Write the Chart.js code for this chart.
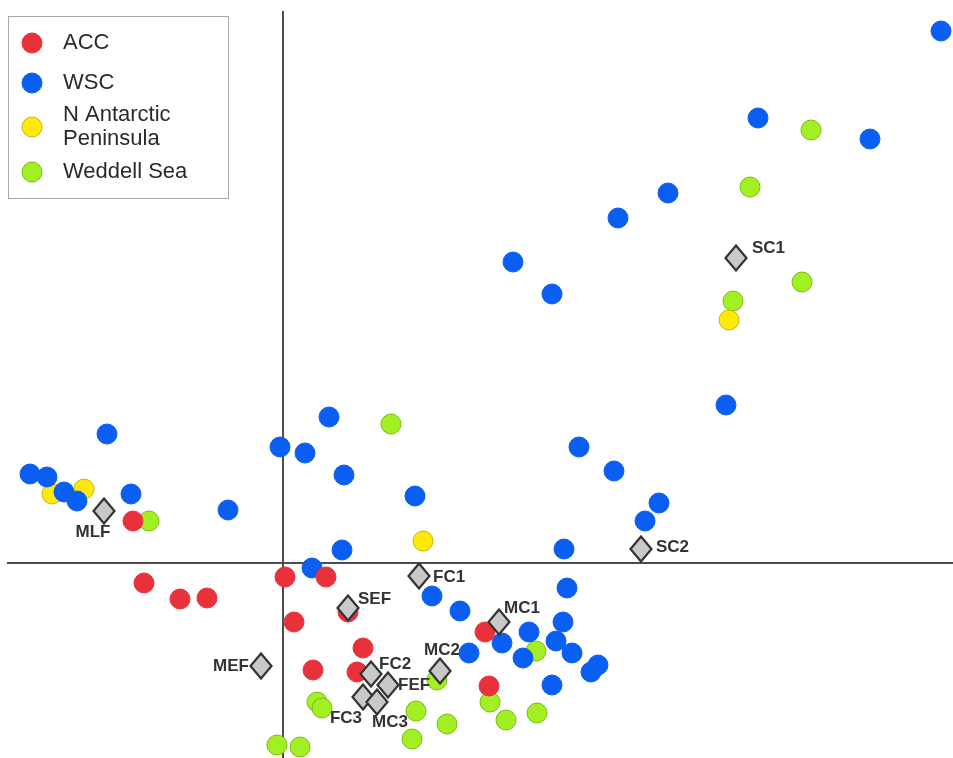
<!DOCTYPE html>
<html>
<head>
<meta charset="utf-8">
<script src="https://cdn.jsdelivr.net/npm/chart.js@4/dist/chart.umd.min.js"></script>
<style>
  html, body { margin: 0; padding: 0; background: #fff; }
  #wrap { position: relative; width: 953px; height: 758px; }
</style>
</head>
<body>
<div id="wrap"><canvas id="c"></canvas></div>
<script>
// Ordination scores
const seriesNames = ["ACC", "WSC", "N Antarctic\nPeninsula", "Weddell Sea"];

const accPoints = [
  [-1.50, 0.42], [-1.39, -0.20], [-1.03, -0.36], [-0.76, -0.35], [0.02, -0.14],
  [0.43, -0.14], [0.11, -0.59], [0.65, -0.49], [0.80, -0.85], [0.30, -1.07],
  [0.74, -1.09], [2.02, -0.69], [2.06, -1.23]
];

const wscPoints = [
  [6.58, 5.32], [4.75, 4.45], [5.87, 4.24], [3.85, 3.70], [3.35, 3.45],
  [2.30, 3.01], [2.69, 2.69], [4.43, 1.58], [0.46, 1.46], [-0.03, 1.16],
  [0.22, 1.10], [0.61, 0.88], [1.32, 0.67], [0.59, 0.13], [0.29, -0.05],
  [2.96, 1.16], [3.31, 0.92], [3.76, 0.60], [3.62, 0.42], [2.81, 0.14],
  [-1.76, 1.29], [-2.53, 0.89], [-2.36, 0.86], [-2.19, 0.71], [-2.06, 0.62],
  [-1.52, 0.69], [-0.55, 0.53], [2.84, -0.25], [1.49, -0.33], [1.77, -0.48],
  [2.80, -0.59], [2.46, -0.69], [2.19, -0.80], [2.73, -0.78], [1.86, -0.90],
  [2.89, -0.90], [2.40, -0.95], [3.15, -1.02], [3.08, -1.09], [2.69, -1.22]
];

const napPoints = [
  [-2.31, 0.69], [-1.99, 0.74], [1.40, 0.22], [4.46, 2.43]
];

const weddellPoints = [
  [5.28, 4.33], [4.67, 3.76], [5.19, 2.81], [4.50, 2.62], [1.08, 1.39],
  [-1.34, 0.42], [1.54, -1.17], [2.53, -0.88], [2.07, -1.39], [0.34, -1.39],
  [0.39, -1.45], [1.33, -1.48], [1.64, -1.61], [2.23, -1.57], [2.54, -1.50],
  [1.29, -1.76], [-0.06, -1.82], [0.17, -1.84]
];

// Environmental / centroid markers
const markerLabels = ["SC1", "SC2", "MLF", "FC1", "SEF", "MC1", "MC2", "MEF", "FC2", "FEF", "FC3", "MC3"];
const markerX = [4.53, 3.58, -1.79, 1.36, 0.65, 2.16, 1.57, -0.22, 0.88, 1.05, 0.80, 0.94];
const markerY = [3.05, 0.14, 0.52, -0.13, -0.45, -0.59, -1.08, -1.03, -1.11, -1.22, -1.34, -1.39];

const xRange = [-2.76, 6.70];
const yRange = [-1.95, 5.52];

// ---- styling ----
const colors = {
  ACC: { fill: "#e8313b", border: "#e8313b" },
  WSC: { fill: "#0a5ff2", border: "#0a5ff2" },
  NAP: { fill: "#ffe90a", border: "#c9b400" },
  WED: { fill: "#a2f023", border: "#7cba12" }
};
// label placement offsets (px) and alignment, per marker
const labelPlace = {
  SC1: [16, -10, "left"], SC2: [15, -2, "left"], MLF: [-11, 21, "center"],
  FC1: [14, 1, "left"], SEF: [10, -9, "left"], MC1: [5, -14, "left"],
  MC2: [2, -21, "center"], MEF: [-12, 0, "right"], FC2: [8, -10, "left"],
  FEF: [10, 0, "left"], FC3: [-17, 21, "center"], MC3: [13, 20, "center"]
};

function toXY(arr) { return arr.map(p => ({ x: p[0], y: p[1] })); }

// diamond image for marker points
const dia = document.createElement("canvas");
dia.width = 24; dia.height = 28;
(function () {
  const g = dia.getContext("2d");
  g.beginPath();
  g.moveTo(12, 1.5); g.lineTo(22.5, 14); g.lineTo(12, 26.5); g.lineTo(1.5, 14); g.closePath();
  g.fillStyle = "#c9c9c9"; g.fill();
  g.lineWidth = 2.2; g.strokeStyle = "#333"; g.stroke();
})();

const FONT = "'Liberation Sans', Arial, Helvetica, sans-serif";

const axesPlugin = {
  id: "zeroAxes",
  beforeDatasetsDraw(chart) {
    const { ctx, chartArea: a, scales: { x, y } } = chart;
    const px = x.getPixelForValue(0), py = y.getPixelForValue(0);
    ctx.save();
    ctx.strokeStyle = "#4d4d4d";
    ctx.lineWidth = 2;
    ctx.beginPath();
    ctx.moveTo(px, a.top); ctx.lineTo(px, a.bottom);
    ctx.moveTo(a.left, py); ctx.lineTo(a.right, py);
    ctx.stroke();
    ctx.restore();
  }
};

const labelPlugin = {
  id: "markerLabels",
  afterDatasetsDraw(chart) {
    const { ctx, scales: { x, y } } = chart;
    ctx.save();
    ctx.font = "bold 17px " + FONT;
    ctx.fillStyle = "#333";
    ctx.textBaseline = "middle";
    markerLabels.forEach((lab, i) => {
      const pl = labelPlace[lab];
      ctx.textAlign = pl[2];
      ctx.fillText(lab, x.getPixelForValue(markerX[i]) + pl[0], y.getPixelForValue(markerY[i]) + pl[1]);
    });
    ctx.restore();
  }
};

const legendPlugin = {
  id: "boxLegend",
  afterDraw(chart) {
    const ctx = chart.ctx;
    ctx.save();
    ctx.fillStyle = "#fff";
    ctx.fillRect(8.5, 16.5, 220, 182);
    ctx.strokeStyle = "#a8a8a8";
    ctx.lineWidth = 1;
    ctx.strokeRect(8.5, 16.5, 220, 182);
    const rows = [43, 83, 127, 172];
    ctx.font = "22px " + FONT;
    ctx.textBaseline = "middle";
    ctx.textAlign = "left";
    chart.data.datasets.slice(0, 4).forEach((ds, i) => {
      ctx.beginPath();
      ctx.arc(32, rows[i], 10, 0, Math.PI * 2);
      ctx.fillStyle = ds.backgroundColor;
      ctx.fill();
      ctx.lineWidth = 1;
      ctx.strokeStyle = ds.borderColor;
      ctx.stroke();
      ctx.fillStyle = "#2a2a2a";
      const lines = ds.label.split("\n");
      if (lines.length === 1) {
        ctx.fillText(lines[0], 63, rows[i]);
      } else {
        ctx.fillText(lines[0], 63, rows[i] - 12);
        ctx.fillText(lines[1], 63, rows[i] + 12);
      }
    });
    ctx.restore();
  }
};

function ptDataset(label, data, c) {
  return {
    label, data: toXY(data),
    backgroundColor: c.fill, borderColor: c.border, borderWidth: 1,
    pointRadius: 10, pointHoverRadius: 10, clip: false
  };
}

new Chart(document.getElementById("c"), {
  type: "scatter",
  data: {
    datasets: [
      ptDataset(seriesNames[0], accPoints, colors.ACC),
      ptDataset(seriesNames[1], wscPoints, colors.WSC),
      ptDataset(seriesNames[2], napPoints, colors.NAP),
      ptDataset(seriesNames[3], weddellPoints, colors.WED),
      {
        label: "markers",
        data: markerX.map((v, i) => ({ x: v, y: markerY[i] })),
        pointStyle: dia, order: -1, clip: false,
        backgroundColor: "#c9c9c9", borderColor: "#333"
      }
    ]
  },
  options: {
    responsive: true,
    maintainAspectRatio: false,
    animation: false,
    events: [],
    layout: { autoPadding: false, padding: { left: 7, top: 11, right: 0, bottom: 0 } },
    plugins: { legend: { display: false }, tooltip: { enabled: false } },
    scales: {
      x: { type: "linear", min: xRange[0], max: xRange[1], display: false },
      y: { type: "linear", min: yRange[0], max: yRange[1], display: false }
    }
  },
  plugins: [axesPlugin, labelPlugin, legendPlugin]
});
</script>
</body>
</html>
